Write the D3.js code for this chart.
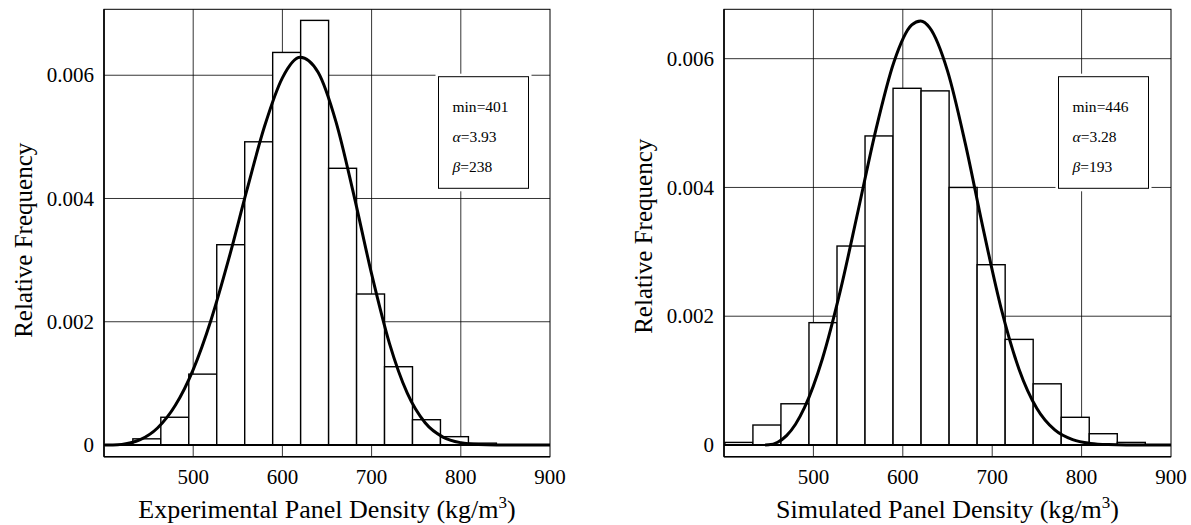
<!DOCTYPE html>
<html>
<head>
<meta charset="utf-8">
<script src="https://cdn.jsdelivr.net/npm/d3@7"></script>
<style>
  body { margin: 0; background: #fff; }
  svg text { font-family: "Liberation Serif", "Times New Roman", Times, "DejaVu Serif", serif; fill: #000; }
</style>
</head>
<body>
<div id="chart"></div>
<script>
// histogram bins (kg/m3), shared by both panels
const binEdges = [401, 432.35, 463.7, 495.05, 526.4, 557.75, 589.1, 620.45, 651.8,
                  683.15, 714.5, 745.85, 777.2, 808.55, 839.9, 871.25];

// relative frequency per bin
const expFreq = [0, 0.0001, 0.00045, 0.00115, 0.00325, 0.00492, 0.00637, 0.00689,
                 0.00449, 0.00245, 0.00127, 0.00041, 0.000135, 0.00003, 0];
const simFreq = [0.00004, 0.00031, 0.00064, 0.0019, 0.00309, 0.0048, 0.00554, 0.0055,
                 0.004, 0.0028, 0.00164, 0.00095, 0.00043, 0.000175, 0.00004];

// fitted curves (x, density)
const expCurveX = [401, 410, 420, 440, 460, 480, 500, 520, 540, 560, 580, 600, 620, 640,
                   660, 680, 700, 720, 740, 760, 780, 800, 820, 840, 870, 900];
const expCurveY = [0, 0.000001, 0.00001, 0.000082, 0.000276, 0.000644, 0.001224, 0.002029,
                   0.003027, 0.004126, 0.005171, 0.005958, 0.006292, 0.006048, 0.005247,
                   0.004064, 0.002776, 0.001649, 0.00084, 0.00036, 0.000128, 0.000037,
                   0.0000085, 0.0000015, 0, 0];
const simCurveX = [446, 450, 460, 470, 480, 490, 510, 530, 550, 570, 590, 610, 620, 630,
                   650, 670, 690, 710, 730, 750, 770, 790, 810, 830, 850, 900];
const simCurveY = [0, 0.0000025, 0.000043, 0.000146, 0.000323, 0.000579, 0.001336, 0.002389,
                   0.003638, 0.004903, 0.005945, 0.006524, 0.006585, 0.006482, 0.005811,
                   0.004677, 0.003353, 0.002123, 0.001178, 0.000566, 0.000233, 0.000082,
                   0.000024, 0.0000058, 0.000001, 0];

const expParams = ["401", "3.93", "238"];
const simParams = ["446", "3.28", "193"];

const xTicks = [500, 600, 700, 800, 900];
const yTicks = [0, 0.002, 0.004, 0.006];
const yTickLabels = ["0", "0.002", "0.004", "0.006"];

const serif = "'Liberation Serif', 'Times New Roman', Times, 'DejaVu Serif', serif";

const svg = d3.select("#chart").append("svg")
    .attr("width", 1191)
    .attr("height", 525)
    .attr("font-family", serif);

function drawPanel(p) {
    const w = p.right - p.left, h = p.bottom - p.top;
    const g = svg.append("g").attr("transform", `translate(${p.left},${p.top})`);

    const x = d3.scaleLinear().domain([400, 900]).range([0, w]);
    const y = d3.scaleLinear().domain(p.yDomain).range([h, 0]);

    // grid
    g.selectAll("line.vgrid").data(xTicks.slice(0, -1)).enter().append("line")
        .attr("x1", d => x(d)).attr("x2", d => x(d))
        .attr("y1", 0).attr("y2", h)
        .attr("stroke", "#000").attr("stroke-width", 0.8);
    g.selectAll("line.hgrid").data(yTicks.slice(1)).enter().append("line")
        .attr("x1", 0).attr("x2", w)
        .attr("y1", d => y(d)).attr("y2", d => y(d))
        .attr("stroke", "#000").attr("stroke-width", 0.8);

    // bars
    const bins = p.freq.map((f, i) => ({x0: binEdges[i], x1: binEdges[i + 1], f: f}));
    g.selectAll("rect.bar").data(bins.filter(d => d.f > 0)).enter().append("rect")
        .attr("x", d => x(d.x0))
        .attr("y", d => y(d.f))
        .attr("width", d => x(d.x1) - x(d.x0))
        .attr("height", d => y(0) - y(d.f))
        .attr("fill", "#fff")
        .attr("stroke", "#000")
        .attr("stroke-width", 1.4);

    // zero baseline
    g.append("line")
        .attr("x1", 0).attr("x2", w)
        .attr("y1", y(0)).attr("y2", y(0))
        .attr("stroke", "#000").attr("stroke-width", 2);

    // fitted curve
    const line = d3.line()
        .x(d => x(d[0]))
        .y(d => y(d[1]))
        .curve(d3.curveMonotoneX);
    g.append("path")
        .datum(d3.zip(p.curveX, p.curveY))
        .attr("d", line)
        .attr("fill", "none")
        .attr("stroke", "#000")
        .attr("stroke-width", 3);

    // frame
    g.append("rect")
        .attr("width", w).attr("height", h)
        .attr("fill", "none")
        .attr("stroke", "#000").attr("stroke-width", 1);
    g.append("line")
        .attr("x1", 0).attr("x2", 0).attr("y1", 0).attr("y2", h)
        .attr("stroke", "#000").attr("stroke-width", 1.6);
    g.append("line")
        .attr("x1", 0).attr("x2", w).attr("y1", h).attr("y2", h)
        .attr("stroke", "#000").attr("stroke-width", 1.6);

    // tick labels
    g.selectAll("text.xt").data(xTicks).enter().append("text")
        .attr("x", d => x(d))
        .attr("y", h + 27)
        .attr("text-anchor", "middle")
        .attr("font-size", 21)
        .text(d => d);
    g.selectAll("text.yt").data(yTicks).enter().append("text")
        .attr("x", -10)
        .attr("y", d => y(d))
        .attr("dy", "0.34em")
        .attr("text-anchor", "end")
        .attr("font-size", 21)
        .text((d, i) => yTickLabels[i]);

    // axis titles
    const xt = g.append("text")
        .attr("x", w / 2)
        .attr("y", h + 61.5)
        .attr("text-anchor", "middle")
        .attr("font-size", 26);
    xt.append("tspan").text(p.xTitle + " (kg/m");
    xt.append("tspan").attr("font-size", 17).attr("dy", -10).text("3");
    xt.append("tspan").attr("dy", 10).text(")");

    g.append("text")
        .attr("transform", `translate(-72,${p.yTitleY}) rotate(-90)`)
        .attr("text-anchor", "middle")
        .attr("font-size", 25)
        .text("Relative Frequency");

    // parameter box
    const bx = 334.5, by = 67.4, bw = 90, bh = 111.6;
    g.append("rect")
        .attr("x", bx - 3).attr("y", by - 3)
        .attr("width", bw + 6).attr("height", bh + 6)
        .attr("fill", "#fff");
    g.append("rect")
        .attr("x", bx).attr("y", by)
        .attr("width", bw).attr("height", bh)
        .attr("fill", "#fff")
        .attr("stroke", "#000").attr("stroke-width", 1);
    const names = ["min", "α", "β"];
    names.forEach((n, i) => {
        const t = g.append("text")
            .attr("x", bx + 14)
            .attr("y", by + 35 + i * 30)
            .attr("font-size", 15.5);
        t.append("tspan").attr("font-style", i > 0 ? "italic" : "normal").text(n);
        t.append("tspan").text("=" + p.params[i]);
    });
}

drawPanel({
    left: 104, right: 550, top: 9.3, bottom: 456.7,
    yDomain: [-0.00019, 0.00707],
    freq: expFreq, curveX: expCurveX, curveY: expCurveY,
    params: expParams, xTitle: "Experimental Panel Density", yTitleY: 231
});

drawPanel({
    left: 724, right: 1171, top: 9.3, bottom: 456.7,
    yDomain: [-0.000182, 0.006767],
    freq: simFreq, curveX: simCurveX, curveY: simCurveY,
    params: simParams, xTitle: "Simulated Panel Density", yTitleY: 227
});
</script>
</body>
</html>
